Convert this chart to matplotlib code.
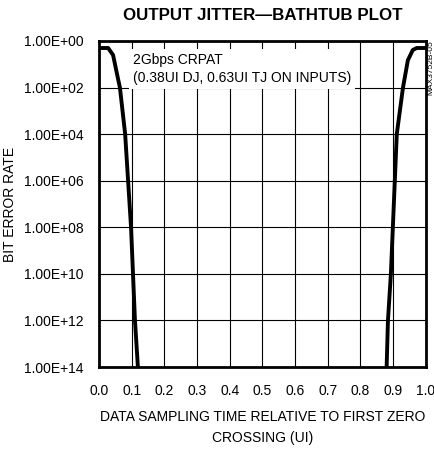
import numpy as np
import matplotlib.pyplot as plt
from matplotlib import font_manager

# sampling-time bathtub curve
left_ui = [0.0, 0.028, 0.043, 0.059, 0.064, 0.080, 0.089, 0.098, 0.104, 0.110, 0.119]
left_ber = [0.5, 0.5, 0.25, 0.021, 1e-2, 1e-4, 1e-6, 1e-8, 1e-10, 1e-12, 1e-14]
right_ui = [0.880, 0.884, 0.893, 0.899, 0.905, 0.911, 0.930, 0.945, 0.960, 0.972, 1.0]
right_ber = [1e-14, 1e-12, 1e-10, 1e-8, 1e-6, 1e-4, 1e-2, 0.15, 0.41, 0.5, 0.5]

x_ticks = [0.0, 0.1, 0.2, 0.3, 0.4, 0.5, 0.6, 0.7, 0.8, 0.9, 1.0]
y_ticks = [1e0, 1e-2, 1e-4, 1e-6, 1e-8, 1e-10, 1e-12, 1e-14]
y_labels = ['1.00E+00', '1.00E+02', '1.00E+04', '1.00E+06',
            '1.00E+08', '1.00E+10', '1.00E+12', '1.00E+14']

names = {f.name for f in font_manager.fontManager.ttflist}
narrow = 'Liberation Sans Narrow' if 'Liberation Sans Narrow' in names else 'Liberation Sans'
plt.rcParams['font.family'] = [narrow, 'DejaVu Sans']

fs = 10
fig = plt.figure(figsize=(4.35, 4.49), dpi=100)
ax = fig.add_axes([0.2276, 0.1826, 0.7514, 0.7261])

ax.plot(left_ui, left_ber, color='k', lw=2.8, solid_joinstyle='round')
ax.plot(right_ui, right_ber, color='k', lw=2.8, solid_joinstyle='round')

ax.set_yscale('log')
ax.set_xlim(0, 1)
ax.set_ylim(1e-14, 1)
ax.set_xticks(x_ticks)
ax.set_xticklabels(['%.1f' % v for v in x_ticks])
ax.set_yticks(y_ticks)
ax.set_yticklabels(y_labels)
ax.minorticks_off()
ax.tick_params(length=0, labelsize=fs)
ax.tick_params(axis='y', pad=11)
ax.tick_params(axis='x', pad=12)
ax.grid(True, color='k', lw=0.8)
ax.set_axisbelow(True)
for s in ax.spines.values():
    s.set_linewidth(2.0)

ax.text(0.104, 0.913, '2Gbps CRPAT\n(0.38UI DJ, 0.63UI TJ ON INPUTS)',
        transform=ax.transAxes, fontsize=fs, va='center', ha='left',
        linespacing=1.35,
        bbox=dict(facecolor='white', edgecolor='none', pad=3))

ax.set_ylabel('BIT ERROR RATE', fontsize=fs)
ax.yaxis.set_label_coords(-0.25, 0.5)
ax.set_xlabel('DATA SAMPLING TIME RELATIVE TO FIRST ZERO\nCROSSING (UI)',
              fontsize=fs, labelpad=9, linespacing=1.6)
fig.text(0.603, 0.965, 'OUTPUT JITTER\u2014BATHTUB PLOT', ha='center', va='center',
         fontsize=12.2, fontweight='bold')
fig.text(0.9905, 0.85, 'MAX3752B-05', rotation=90, fontsize=6, ha='center', va='center')

fig.savefig('out.png', dpi=100)
